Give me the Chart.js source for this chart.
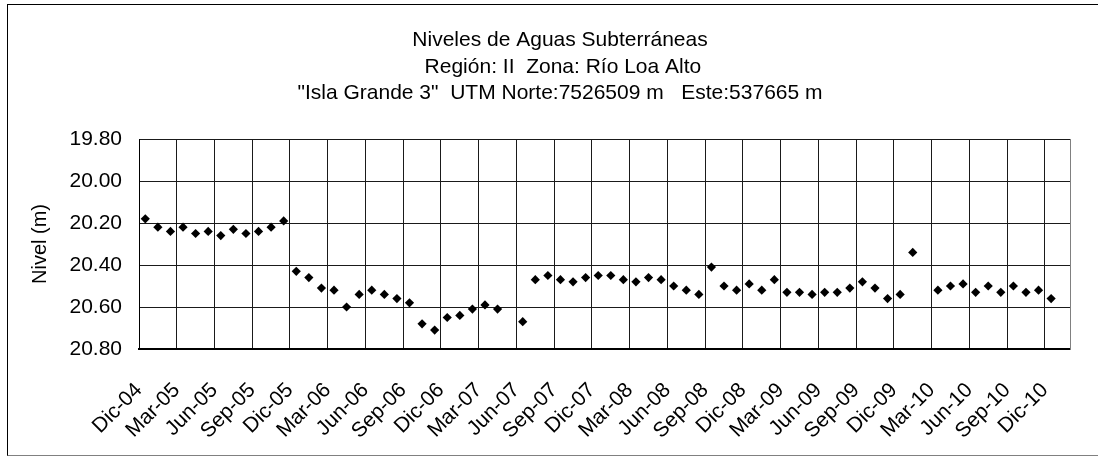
<!DOCTYPE html>
<html>
<head>
<meta charset="utf-8">
<script src="https://cdn.jsdelivr.net/npm/chart.js@4/dist/chart.umd.min.js"></script>
<style>
html,body{margin:0;padding:0;background:#fff;overflow:hidden;width:1098px;height:457px;}
#wrap{position:absolute;left:0;top:0;width:1112px;height:457px;}
#frame{position:absolute;left:7px;top:4px;width:1100px;height:450px;border-top:1px solid #000;border-left:1px solid #000;border-bottom:1px solid #808080;pointer-events:none;}
</style>
</head>
<body>
<div id="wrap"><canvas id="c" width="1112" height="457"></canvas></div>
<div id="frame"></div>
<script>
// ---- data ----
const titleLines = [
  'Niveles de Aguas Subterráneas',
  ' Región: II  Zona: Río Loa Alto',
  '"Isla Grande 3"  UTM Norte:7526509 m   Este:537665 m'
];
const yAxisTitle = 'Nivel (m)';
// x tick labels, one every 3 months starting Dic-04
const tickLabels = [
  'Dic-04','Mar-05','Jun-05','Sep-05',
  'Dic-05','Mar-06','Jun-06','Sep-06',
  'Dic-06','Mar-07','Jun-07','Sep-07',
  'Dic-07','Mar-08','Jun-08','Sep-08',
  'Dic-08','Mar-09','Jun-09','Sep-09',
  'Dic-09','Mar-10','Jun-10','Sep-10',
  'Dic-10'
];
// monthly levels (m), first value = Dic-04; null = no measurement
const levels = [
  20.18, 20.22, 20.24, 20.22, 20.25, 20.24, 20.26, 20.23, 20.25, 20.24, 20.22, 20.19,
  20.43, 20.46, 20.51, 20.52, 20.60, 20.54, 20.52, 20.54, 20.56, 20.58, 20.68, 20.71,
  20.65, 20.64, 20.61, 20.59, 20.61, null,  20.67, 20.47, 20.45, 20.47, 20.48, 20.46,
  20.45, 20.45, 20.47, 20.48, 20.46, 20.47, 20.50, 20.52, 20.54, 20.41, 20.50, 20.52,
  20.49, 20.52, 20.47, 20.53, 20.53, 20.54, 20.53, 20.53, 20.51, 20.48, 20.51, 20.56,
  20.54, 20.34, null,  20.52, 20.50, 20.49, 20.53, 20.50, 20.53, 20.50, 20.53, 20.52,
  20.56
];
const yMin = 19.8, yMax = 20.8, yStep = 0.2;
const monthsPerTick = 3;
const axisMonths = 74; // Dic-04 .. Feb-11

// ---- chart ----
const points = [];
levels.forEach((v, i) => { if (v !== null) points.push({x: i + 0.5, y: v}); });

const FONT = "'Liberation Sans', Arial, sans-serif";

new Chart(document.getElementById('c'), {
  type: 'scatter',
  data: {
    datasets: [{
      data: points,
      showLine: false,
      pointStyle: 'rectRot',
      pointRadius: 4.6,
      pointHoverRadius: 4.6,
      borderWidth: 0,
      backgroundColor: '#000',
      borderColor: '#000'
    }]
  },
  options: {
    responsive: false,
    animation: false,
    devicePixelRatio: 1,
    layout: {padding: {left: 8, right: 0, top: 0, bottom: 0}},
    plugins: {
      legend: {display: false},
      tooltip: {enabled: false},
      title: {
        display: true,
        text: titleLines,
        color: '#000',
        font: {family: FONT, size: 21, weight: 'normal', lineHeight: 1.27},
        padding: {top: 27, bottom: 32}
      }
    },
    scales: {
      x: {
        type: 'linear',
        min: 0,
        max: axisMonths,
        grid: {color: '#1a1a1a', lineWidth: 1, drawTicks: false},
        border: {display: true, color: '#000', width: 2},
        ticks: {
          stepSize: monthsPerTick,
          includeBounds: false,
          autoSkip: false,
          minRotation: 45,
          maxRotation: 45,
          padding: 29,
          color: '#000',
          font: {family: FONT, size: 21},
          callback: (v) => tickLabels[Math.round(v / monthsPerTick)]
        },
        afterFit: (s) => { s.height = 108; }
      },
      y: {
        type: 'linear',
        reverse: true,
        min: yMin,
        max: yMax,
        grid: {color: '#1a1a1a', lineWidth: 1, drawTicks: false},
        border: {display: true, color: '#000', width: 1},
        ticks: {
          stepSize: yStep,
          padding: 17,
          color: '#000',
          font: {family: FONT, size: 21},
          callback: (v) => v.toFixed(2)
        },
        title: {
          display: true,
          text: yAxisTitle,
          color: '#000',
          font: {family: FONT, size: 20},
          padding: {top: 20, bottom: 20}
        },
        afterFit: (s) => { s.width = 131; }
      },
      y2: {
        type: 'linear',
        position: 'right',
        grid: {drawOnChartArea: false, drawTicks: false},
        border: {display: true, color: '#808080', width: 1},
        ticks: {display: false},
        afterFit: (s) => { s.width = 42; }
      }
    }
  }
});
</script>
</body>
</html>
